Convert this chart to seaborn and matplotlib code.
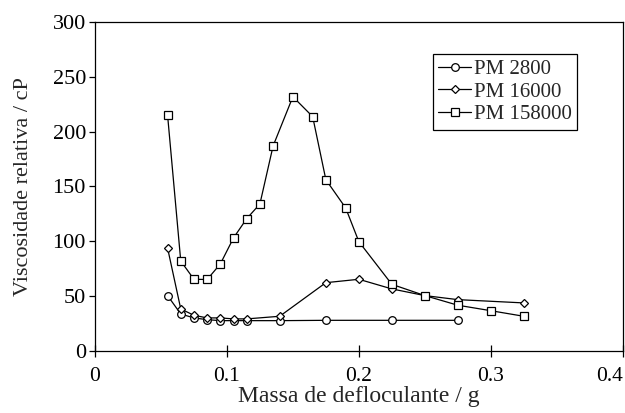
import matplotlib
matplotlib.use("Agg")
import matplotlib.pyplot as plt
import seaborn as sns
import pandas as pd

# Data
x_2800 = [0.055, 0.065, 0.075, 0.085, 0.095, 0.105, 0.115, 0.14, 0.175, 0.225, 0.275]
y_2800 = [50.3, 33.5, 29.9, 28.3, 27.4, 27.4, 27.4, 27.4, 27.7, 27.7, 27.7]

x_16000 = [0.055, 0.065, 0.075, 0.085, 0.095, 0.105, 0.115, 0.14, 0.175, 0.2, 0.225, 0.25, 0.275, 0.325]
y_16000 = [93.8, 38.1, 32.3, 29.9, 29.9, 29.0, 29.0, 31.4, 62.1, 65.2, 56.4, 50.3, 46.6, 43.6]

x_158000 = [0.055, 0.065, 0.075, 0.085, 0.095, 0.105, 0.115, 0.125, 0.135, 0.15, 0.165, 0.175,
            0.19, 0.2, 0.225, 0.25, 0.275, 0.3, 0.325]
y_158000 = [215.3, 81.9, 65.2, 65.0, 79.2, 103.0, 120.6, 134.0, 187.0, 232.0, 213.8, 156.2,
            130.4, 99.6, 60.6, 50.3, 41.5, 36.5, 31.4]

labels = ["PM 2800", "PM 16000", "PM 158000"]
x_ticks = [0, 0.1, 0.2, 0.3, 0.4]
x_ticklabels = ["0", "0.1", "0.2", "0.3", "0.4"]
y_ticks = [0, 50, 100, 150, 200, 250, 300]

sns.set_style("ticks")
plt.rcParams['font.family'] = ['Liberation Serif', 'DejaVu Serif']

fig = plt.figure(figsize=(6.25, 4.13), dpi=100)
ax = fig.add_axes([0.152, 0.151, 0.8443, 0.795])

series = [
    (x_2800, y_2800, labels[0], 'o', 5.5),
    (x_16000, y_16000, labels[1], 'D', 3.8),
    (x_158000, y_158000, labels[2], 's', 5.5),
]
for xs, ys, lab, mk, ms in series:
    df = pd.DataFrame({"x": xs, "y": ys})
    sns.lineplot(data=df, x="x", y="y", ax=ax, color="black", linewidth=0.9,
                 marker=mk, markersize=ms, markerfacecolor="white",
                 markeredgecolor="black", markeredgewidth=0.9, label=lab)

ax.set_xlim(0, 0.4)
ax.set_ylim(0, 300)
ax.set_xticks(x_ticks)
ax.set_xticklabels(x_ticklabels)
ax.get_xticklabels()[-1].set_horizontalalignment('right')
ax.set_yticks(y_ticks)
ax.set_xlabel("Massa de defloculante / g", fontsize=17, labelpad=0)
ax.set_ylabel("Viscosidade relativa / cP", fontsize=16, labelpad=14)
ax.tick_params(axis='x', direction='inout', length=8, width=0.9, labelsize=15.5, pad=8, colors='black')
ax.tick_params(axis='y', direction='out', length=4.5, width=0.9, labelsize=16, pad=2, colors='black')
for s in ax.spines.values():
    s.set_visible(True)
    s.set_color('black')
    s.set_linewidth(0.9)

leg = ax.legend(loc='upper left', bbox_to_anchor=(0.64, 0.903), borderaxespad=0,
                fancybox=False, edgecolor='black', framealpha=1, fontsize=15,
                handlelength=1.6, handletextpad=0.15, borderpad=0.25, labelspacing=0.15)
leg.get_frame().set_linewidth(0.9)

fig.savefig("out.png", dpi=100)
